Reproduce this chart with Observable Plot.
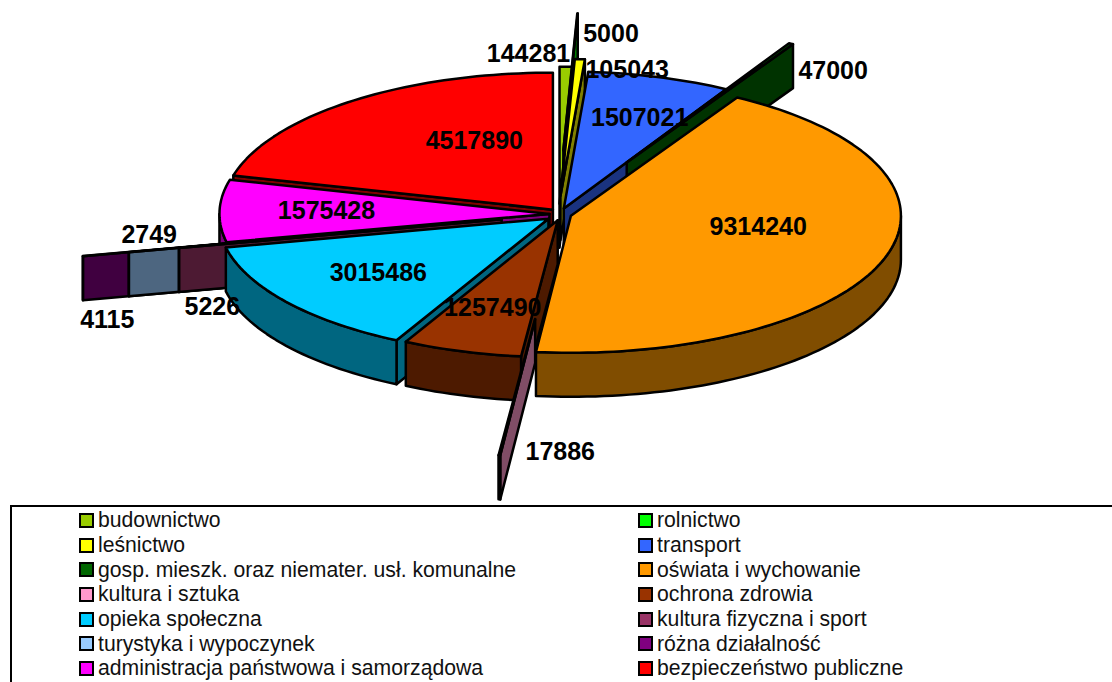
<!DOCTYPE html>
<html><head><meta charset="utf-8">
<script src="https://cdn.jsdelivr.net/npm/d3@7"></script>
<script src="https://cdn.jsdelivr.net/npm/@observablehq/plot@0.6"></script>
<style>
html,body{margin:0;padding:0;background:#fff;width:1112px;height:682px;overflow:hidden;font-family:"Liberation Sans",Arial,sans-serif}
#legend{position:absolute;left:10px;top:505px;width:1200px;height:200px;border:2px solid #000;box-sizing:border-box;display:grid;grid-template-columns:559px 1fr;grid-auto-rows:24.7px;padding:1px 0 0 67px;font-size:21.2px;color:#111}
#legend div{display:flex;align-items:center;white-space:nowrap}
#legend i{display:block;width:11px;height:11px;border:2px solid #000;margin-right:4px;flex:none}
</style></head><body>
<div id="chart"></div><div id="legend"></div>
<script>
const names=["budownictwo","rolnictwo","leśnictwo","transport","gosp. mieszk. oraz niemater. usł. komunalne","oświata i wychowanie","kultura i sztuka","ochrona zdrowia","opieka społeczna","kultura fizyczna i sport","turystyka i wypoczynek","różna działalność","administracja państwowa i samorządowa","bezpieczeństwo publiczne"];
const values=[144281,5000,105043,1507021,47000,9314240,17886,1257490,3015486,5226,2749,4115,1575428,4517890];
const explode=[.075,.45,.125,.05,.40,.03,.75,.055,.044,.184,.339,.481,.035,.04];
const topColors=["#99cc00","#00ff00","#ffff00","#3366ff","#006600","#ff9900","#ff99cc","#993300","#00ccff","#993366","#99ccff","#800080","#ff00ff","#ff0000"];
const wallColors=["#4d6600","#008000","#808000","#1a3380","#003300","#804d00","#804d66","#4d1a00","#006680","#4d1a33","#4d6680","#400040","#800080","#800000"];
const paintOrder=[13,0,1,2,3,4,12,11,10,9,8,7,6,5];
const shiftX=[-2,-4,-3,-2,0,.5,1,2,-1,0,0,0,0,0];
const shiftY=[0,-2,-1,1,-4,.5,3,-1,1,0,0,0,0,0];
const labelDx=[-36.5,36.6,54,26,124.3,31,44,-15,-40,-128,-141,-137,-58,22.5];
const labelDy=[-81,-49.5,-59,-24,-36.4,-10,68,21,14,73,-3,78,-1,-15];
const W=1112,H=505,cx=560.5,cy=213.5,rx=330,ry=137,depth=44;
const total=d3.sum(values);
const rad=d=>d*Math.PI/180;
let acc=0;
const slices=values.map((v,i)=>{const a=acc/total*360;acc+=v;const b=acc/total*360;
  const mid=(a+b)/2,e=explode[i];
  const bx=cx+e*rx*Math.sin(rad(mid)),by=cy-e*ry*Math.cos(rad(mid));
  return {i,a,b,mid,bx,by,ax:bx+shiftX[i],ay:by+shiftY[i]};});
const faces=[];let fid=0;
function face(pts,fill){const id=fid++;[...pts,pts[0]].forEach(p=>faces.push({id,x:p[0],y:p[1],fill}));}
const pt=(s,t,z=0)=>[s.ax+rx*Math.sin(rad(t)),s.ay-ry*Math.cos(rad(t))+z];
function arc(s,a,b){const n=Math.max(1,Math.ceil((b-a)/1.5)),o=[];for(let k=0;k<=n;k++)o.push(pt(s,a+(b-a)*k/n));return o;}
for(const idx of paintOrder){const s=slices[idx];
  if(Math.sin(rad(s.a))<0){const t=pt(s,s.a);face([[s.ax,s.ay],t,[t[0],t[1]+depth],[s.ax,s.ay+depth]],wallColors[idx]);}
  if(Math.sin(rad(s.b))>0){const t=pt(s,s.b);face([[s.ax,s.ay],t,[t[0],t[1]+depth],[s.ax,s.ay+depth]],wallColors[idx]);}
  const w0=Math.max(s.a,90),w1=Math.min(s.b,270);
  if(w1>w0){const up=arc(s,w0,w1);const dn=up.map(p=>[p[0],p[1]+depth]).reverse();face([...up,...dn],wallColors[idx]);}
  face([[s.ax,s.ay],...arc(s,s.a,s.b)],topColors[idx]);
}
const labels=slices.map(s=>{const k=.5;return {t:String(values[s.i]),
  x:s.bx+k*rx*Math.sin(rad(s.mid))+labelDx[s.i],y:s.by-k*ry*Math.cos(rad(s.mid))+labelDy[s.i]};});
const chart=Plot.plot({width:W,height:H,margin:0,
  x:{domain:[0,W],range:[0,W],axis:null},y:{domain:[0,H],range:[0,H],axis:null},
  color:{type:"identity"},style:{background:"transparent",fontFamily:'"Liberation Sans",Arial,sans-serif'},
  marks:[
    Plot.line(faces,{x:"x",y:"y",z:"id",fill:"fill",stroke:"#000",strokeWidth:2.5,strokeLinejoin:"round",curve:"linear"}),
    Plot.text(labels,{x:"x",y:"y",text:"t",fontSize:25,fontWeight:700,fill:"#000",textAnchor:"middle"})
  ]});
chart.style.display="block";
document.getElementById("chart").append(chart);
const lg=document.getElementById("legend");
names.forEach((n,i)=>{const d=document.createElement("div");const sw=document.createElement("i");sw.style.background=topColors[i];d.append(sw,n);lg.append(d);});
</script></body></html>
